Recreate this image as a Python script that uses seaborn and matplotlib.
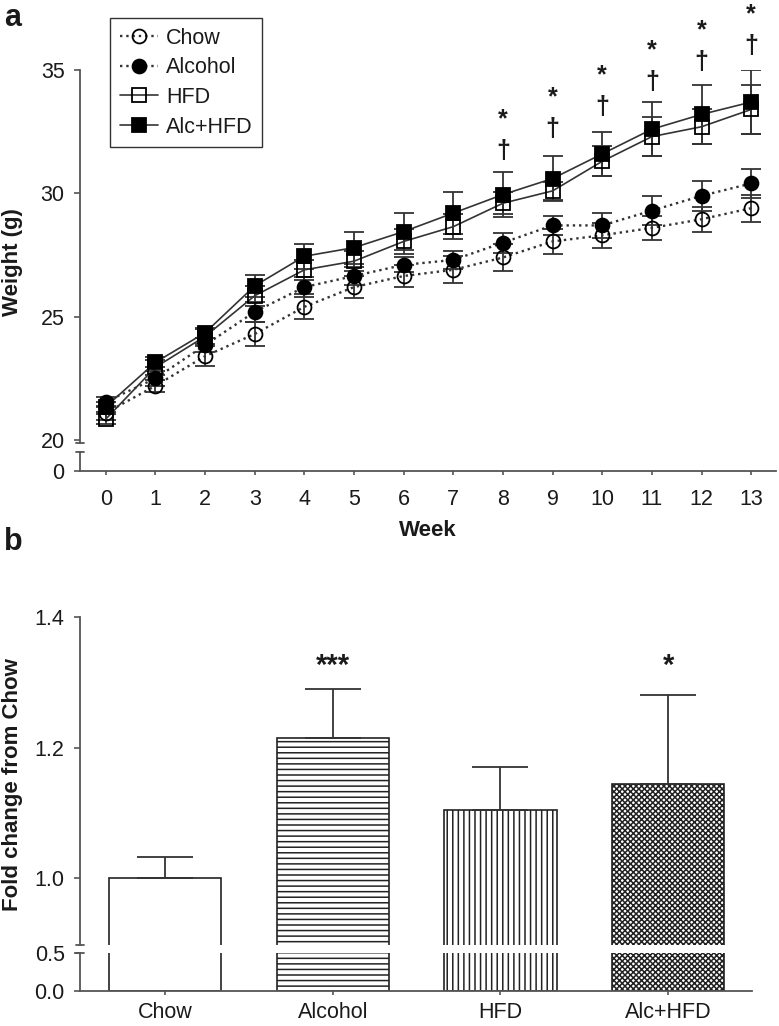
import numpy as np
import pandas as pd
import matplotlib
matplotlib.use("Agg")
import matplotlib.pyplot as plt
import seaborn as sns

# ---------------- data ----------------
weeks = list(range(14))
chow = [21.1, 22.2, 23.4, 24.3, 25.4, 26.2, 26.65, 26.9, 27.4, 28.05, 28.3, 28.6, 28.95, 29.4]
chow_err = [0.3, 0.25, 0.4, 0.5, 0.5, 0.45, 0.45, 0.55, 0.55, 0.5, 0.5, 0.5, 0.5, 0.55]
alcohol = [21.55, 22.5, 23.85, 25.2, 26.2, 26.65, 27.1, 27.3, 28.0, 28.7, 28.7, 29.3, 29.9, 30.4]
alcohol_err = [0.2, 0.3, 0.3, 0.4, 0.4, 0.35, 0.3, 0.35, 0.4, 0.4, 0.5, 0.6, 0.6, 0.6]
hfd = [20.85, 22.95, 24.2, 25.85, 26.9, 27.25, 28.05, 28.65, 29.6, 30.1, 31.3, 32.3, 32.7, 33.4]
hfd_err = [0.2, 0.3, 0.3, 0.4, 0.4, 0.4, 0.5, 0.5, 0.45, 0.35, 0.6, 0.8, 0.7, 1.0]
alchfd = [21.35, 23.15, 24.35, 26.25, 27.45, 27.8, 28.45, 29.2, 29.95, 30.6, 31.6, 32.6, 33.2, 33.7]
alchfd_err = [0.2, 0.2, 0.2, 0.45, 0.5, 0.65, 0.75, 0.85, 0.9, 0.9, 0.9, 1.1, 1.2, 1.3]

# significance marks (* vs Chow, † vs Alcohol) above weeks 8-13
sig_weeks = [8, 9, 10, 11, 12, 13]
sig_text = "*\n†"
sig_y = [32.35, 33.25, 34.15, 35.15, 35.95, 36.6]

groups = ["Chow", "Alcohol", "HFD", "Alc+HFD"]
fold = [1.0, 1.215, 1.105, 1.145]
fold_err = [0.032, 0.075, 0.065, 0.136]
fold_sig = ["", "***", "", "*"]
fold_sig_y = [0, 1.325, 0, 1.325]

# ---------------- style ----------------
sns.set_theme(style="white")
plt.rcParams['font.family'] = ['Liberation Sans', 'DejaVu Sans']
plt.rcParams['hatch.linewidth'] = 1.1
TXT = "#1a1a1a"
AX = "#555555"
LN = "#333333"
TICK_FS = 15.5
LAB_FS = 16

W, H = 779, 1026
fig = plt.figure(figsize=(W / 100, H / 100), dpi=100)


def axes_px(left, right, top, bottom):
    return fig.add_axes([left / W, 1 - bottom / H, (right - left) / W, (bottom - top) / H])


def style_axes(ax):
    for s in ["top", "right"]:
        ax.spines[s].set_visible(False)
    for s in ["left", "bottom"]:
        ax.spines[s].set_color(AX)
        ax.spines[s].set_linewidth(1.3)
    ax.tick_params(colors=AX, labelcolor=TXT, labelsize=TICK_FS, width=1.2, length=4,
                   direction="out", left=True, bottom=True)
    ax.tick_params(axis="y", pad=7)
    ax.set_facecolor("none")
    ax.grid(False)


# ---------------- panel a ----------------
x_lo, x_hi = -0.52, 13.5
axa = axes_px(80, 776, 70, 443)
axa0 = axes_px(80, 776, 452, 471)
axa.set_ylim(19.88, 35)
axa0.set_ylim(0, 1)
for ax in (axa, axa0):
    ax.set_xlim(x_lo, x_hi)
    style_axes(ax)
axa.spines["bottom"].set_visible(False)
axa.tick_params(bottom=False, labelbottom=False)
axa.set_yticks([20, 25, 30, 35])
axa0.set_yticks([0])
axa0.set_xticks(weeks)
axa0.tick_params(axis="x", length=3, pad=10)

series = [
    ("Chow", chow, chow_err, "o", ":", "none"),
    ("Alcohol", alcohol, alcohol_err, "o", ":", "black"),
    ("HFD", hfd, hfd_err, "s", "-", "none"),
    ("Alc+HFD", alchfd, alchfd_err, "s", "-", "black"),
]
for name, vals, err, mk, ls, fc in series:
    axa.errorbar(weeks, vals, yerr=err, fmt="none", ecolor=LN, elinewidth=1.3,
                 capsize=7, capthick=1.3, zorder=2)
for name, vals, err, mk, ls, fc in series:
    sns.lineplot(x=weeks, y=vals, ax=axa, marker=mk, linestyle=ls, color=LN,
                 linewidth=1.7 if ls == ":" else 1.2,
                 markersize=10, markerfacecolor=fc, markeredgecolor="black",
                 markeredgewidth=1.3, label=name, errorbar=None, zorder=3)

for w, y in zip(sig_weeks, sig_y):
    axa.text(w, y, sig_text, ha="center", va="center", multialignment="center",
             fontsize=18, fontweight="bold", linespacing=1.4, color=TXT,
             clip_on=False)

leg = axa.legend(loc="upper left", bbox_to_anchor=(110 / W, 1 - 18 / H),
                 bbox_transform=fig.transFigure, fontsize=15.5, frameon=True,
                 fancybox=False, edgecolor="black", handlelength=1.8,
                 handletextpad=0.35, labelspacing=0.4, borderpad=0.45,
                 borderaxespad=0)
leg.get_frame().set_linewidth(1.0)
for t in leg.get_texts():
    t.set_color(TXT)

axa.set_ylabel("Weight (g)", fontsize=LAB_FS, fontweight="bold", color=TXT, va="center")
axa.yaxis.set_label_coords(13 / W, 1 - 262 / H, transform=fig.transFigure)
axa0.set_xlabel("Week", fontsize=LAB_FS, fontweight="bold", color=TXT)
axa0.xaxis.set_label_coords(428 / W, 1 - 520 / H, transform=fig.transFigure)


def break_marks(ax_top, ax_bot):
    kw = dict(color=AX, lw=1.3, clip_on=False)
    ax_top.plot([-0.006, 0.006], [0, 0], transform=ax_top.transAxes, **kw)
    ax_bot.plot([-0.006, 0.006], [1, 1], transform=ax_bot.transAxes, **kw)


break_marks(axa, axa0)

# ---------------- panel b ----------------
axb = axes_px(80, 752, 617, 945)
axb0 = axes_px(80, 752, 953, 991)
axb.set_ylim(0.898, 1.4)
axb0.set_ylim(0, 0.5)
hatches = ["", "---", "|||", "xxxxxx"]
df = pd.DataFrame({"group": groups, "fold": fold})
for ax in (axb, axb0):
    sns.barplot(data=df, x="group", y="fold", ax=ax, color="white", width=0.67,
                edgecolor=LN, linewidth=1.2, errorbar=None, saturation=1)
    for p, h in zip(ax.patches, hatches):
        p.set_hatch(h)
        p.set_facecolor("white")
        p.set_edgecolor("#222222")
    ax.set_xlim(-0.507, 3.5)
    style_axes(ax)
    ax.set_xlabel("")
    ax.set_ylabel("")
axb.errorbar(range(4), fold, yerr=[np.zeros(4), fold_err], fmt="none", ecolor=LN,
             elinewidth=1.3, capsize=20, capthick=1.3, zorder=1)
axb.spines["bottom"].set_visible(False)
axb.tick_params(bottom=False, labelbottom=False)
axb.set_yticks([1.0, 1.2, 1.4])
axb.set_yticklabels(["1.0", "1.2", "1.4"])
axb0.set_yticks([0.0, 0.5])
axb0.set_yticklabels(["0.0", "0.5"])
axb0.tick_params(axis="x", length=3, pad=5)
for i, (s, y) in enumerate(zip(fold_sig, fold_sig_y)):
    if s:
        axb.text(i, y, s, ha="center", va="center", fontsize=21, fontweight="bold",
                 color=TXT)

axb.set_ylabel("Fold change from Chow", fontsize=LAB_FS, fontweight="bold", color=TXT,
               va="center")
axb.yaxis.set_label_coords(13 / W, 1 - 785 / H, transform=fig.transFigure)
break_marks(axb, axb0)

fig.text(4 / W, 1 - 18 / H, "a", fontsize=22, fontweight="bold", color=TXT, va="center")
fig.text(4 / W, 1 - 542 / H, "b", fontsize=22, fontweight="bold", color=TXT, va="center")

fig.savefig("out.png", dpi=100, facecolor="white")
